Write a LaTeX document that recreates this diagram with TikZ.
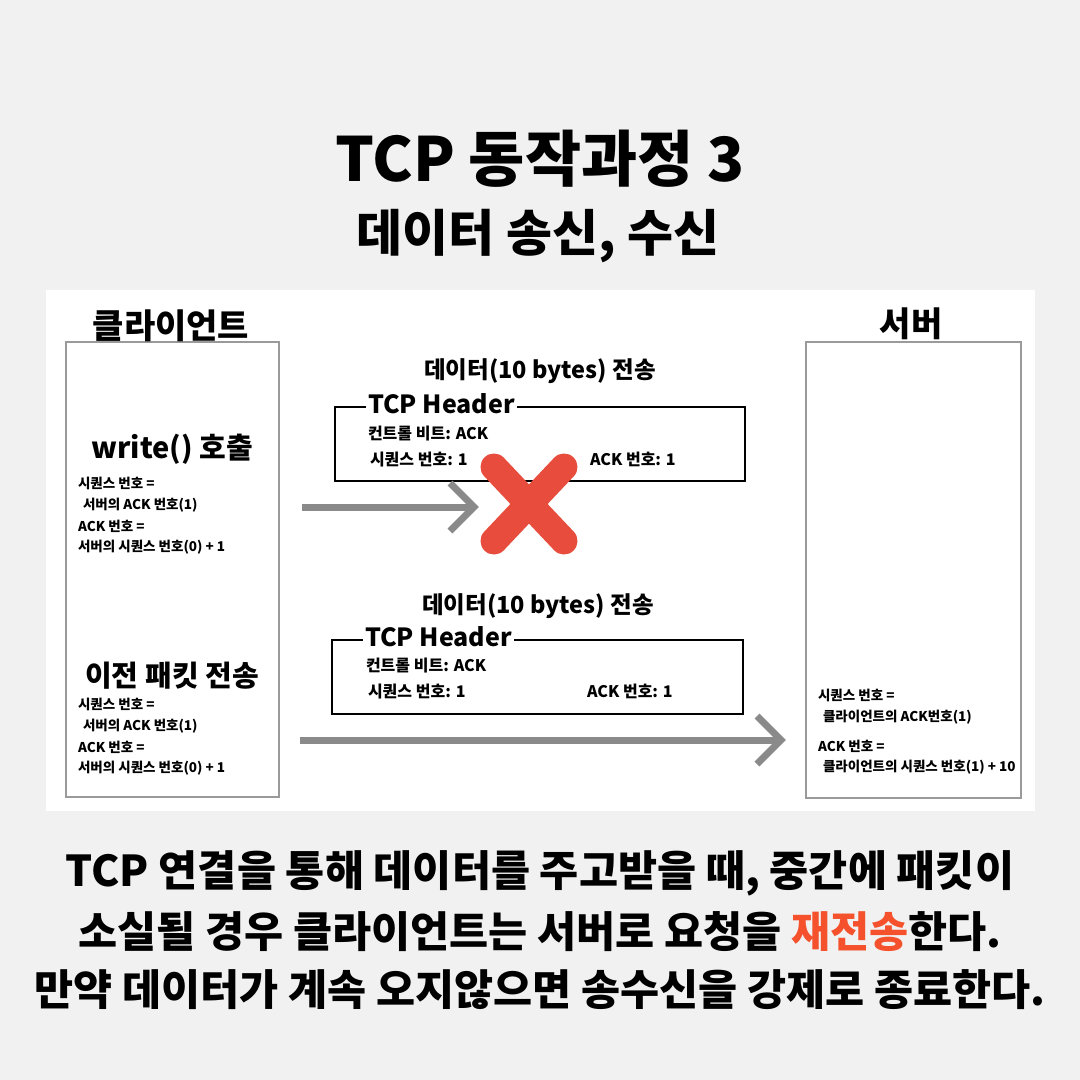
\documentclass[tikz,border=0pt]{standalone}
\usepackage{fontspec}
\setmainfont{Noto Sans CJK KR}
\usetikzlibrary{calc}
\definecolor{bgc}{HTML}{F1F1F1}
\definecolor{arrc}{HTML}{8A8A8A}
\definecolor{xred}{HTML}{E74C3C}
\definecolor{hl}{HTML}{F4512C}
\definecolor{boxc}{HTML}{9A9A9A}
\begin{document}
\begin{tikzpicture}[x=1pt,y=-1pt,
  every node/.style={inner sep=0pt, outer sep=0pt, font=\bfseries},
  sideBox/.style={draw=boxc, line width=1.2pt, fill=white},
  hdrBox/.style={draw=black, line width=2.6pt},
  hdrLabel/.style={fill=white, inner xsep=2pt, inner ysep=1pt, anchor=base west, font=\bfseries\fontsize{25}{25}\selectfont},
  small/.style={anchor=base west, font=\bfseries\fontsize{13.5}{13.5}\selectfont},
  mid/.style={anchor=base west, font=\bfseries\fontsize{16}{16}\selectfont},
  pktTitle/.style={anchor=base, font=\bfseries\fontsize{23.5}{23.5}\selectfont},
  big/.style={anchor=base, font=\bfseries\fontsize{29}{29}\selectfont},
  side/.style={anchor=base, font=\bfseries\fontsize{34}{34}\selectfont},
  bottomtxt/.style={anchor=base, font=\bfseries\fontsize{42.5}{42.5}\selectfont},
  arr/.style={draw=arrc, line width=7pt},
  arrhead/.style={draw=arrc, line width=7pt, line join=miter},
  xmark/.style={draw=xred, line width=27pt, line cap=round}
]
\useasboundingbox (0,0) rectangle (1080,1080);
\fill[bgc] (0,0) rectangle (1080,1080);

% titles
\node[anchor=base, font=\bfseries\fontsize{61}{61}\selectfont] (title) at (540,181) {TCP 동작과정 3};
\node[anchor=base, font=\bfseries\fontsize{50}{50}\selectfont] (subtitle) at (538,251) {데이터 송신, 수신};

% white panel
\fill[white] (46,290) rectangle (1035,811);

% side boxes
\draw[sideBox] (66,342) rectangle (279,797);
\draw[sideBox] (806,342) rectangle (1021,798);
\node[side] (client) at (171,338) {클라이언트};
\node[side] (server) at (911,336) {서버};

% client upper
\node[big] (write) at (172,458) {write() 호출};
\node[small] (c1a) at (78,488) {시퀀스 번호 =};
\node[small] (c1b) at (83,509) {서버의 ACK 번호(1)};
\node[small] (c1c) at (78,531) {ACK 번호 =};
\node[small] (c1d) at (78,551) {서버의 시퀀스 번호(0) + 1};

% client lower
\node[big] (prev) at (172,686) {이전 패킷 전송};
\node[small] (c2a) at (78,709) {시퀀스 번호 =};
\node[small] (c2b) at (83,730) {서버의 ACK 번호(1)};
\node[small] (c2c) at (78,752) {ACK 번호 =};
\node[small] (c2d) at (78,772) {서버의 시퀀스 번호(0) + 1};

% server text
\node[small] (s1) at (818,700) {시퀀스 번호 =};
\node[small] (s2) at (823,721) {클라이언트의 ACK번호(1)};
\node[small] (s3) at (818,751) {ACK 번호 =};
\node[small] (s4) at (823,771) {클라이언트의 시퀀스 번호(1) + 10};

% packet 1
\node[pktTitle] (p1t) at (540,378) {데이터(10 bytes) 전송};
\draw[hdrBox] (335,407) rectangle (745,481);
\node[hdrLabel] (p1h) at (366,413) {TCP Header};
\node[mid] (p1c) at (368,439) {컨트롤 비트: ACK};
\node[mid] (p1s) at (370,465) {시퀀스 번호: 1};
\node[mid] (p1a) at (590,465) {ACK 번호: 1};

% packet 2
\node[pktTitle] (p2t) at (538,613) {데이터(10 bytes) 전송};
\draw[hdrBox] (332,640) rectangle (743,714);
\node[hdrLabel] (p2h) at (363,646) {TCP Header};
\node[mid] (p2c) at (366,671) {컨트롤 비트: ACK};
\node[mid] (p2s) at (368,697) {시퀀스 번호: 1};
\node[mid] (p2a) at (587,697) {ACK 번호: 1};

% arrows
\coordinate (a1s) at (302,507);
\coordinate (a1e) at (474,507);
\draw[arr] (a1s) -- (a1e);
\draw[arrhead] ($(a1e)+(-24,-24)$) -- (a1e) -- ($(a1e)+(-24,24)$);

\coordinate (a2s) at (300,740);
\coordinate (a2e) at (781,740);
\draw[arr] (a2s) -- (a2e);
\draw[arrhead] ($(a2e)+(-24,-24)$) -- (a2e) -- ($(a2e)+(-24,24)$);

% red X
\coordinate (xc) at (529,504);
\draw[xmark] ($(xc)+(-35,-37)$) -- ($(xc)+(35,37)$);
\draw[xmark] ($(xc)+(35,-37)$) -- ($(xc)+(-35,37)$);

% bottom text
\node[bottomtxt] (b1) at (540,886) {TCP 연결을 통해 데이터를 주고받을 때, 중간에 패킷이};
\node[bottomtxt] (b2) at (540,947) {소실될 경우 클라이언트는 서버로 요청을 \textcolor{hl}{재전송}한다.};
\node[bottomtxt] (b3) at (540,1005) {만약 데이터가 계속 오지않으면 송수신을 강제로 종료한다.};
\end{tikzpicture}
\end{document}
